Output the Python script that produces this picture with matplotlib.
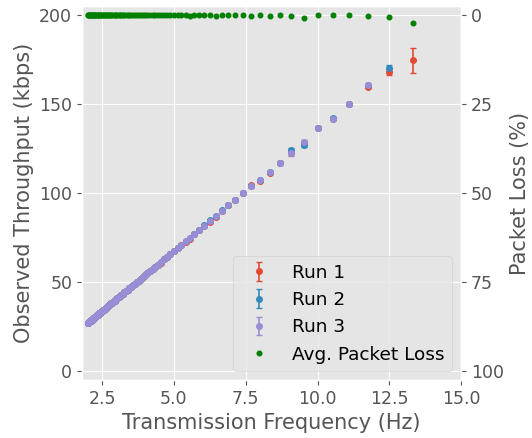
import numpy as np
import matplotlib
matplotlib.use("Agg")
import matplotlib.pyplot as plt

plt.style.use("ggplot")

# transmission frequency (Hz), high -> low
freq = [13.33, 12.50, 11.76, 11.11, 10.53, 10.00, 9.52, 9.09, 8.70, 8.33,
        8.00, 7.69, 7.41, 7.14, 6.90, 6.67, 6.45, 6.25, 6.06, 5.88,
        5.71, 5.56, 5.41, 5.26, 5.13, 5.00, 4.88, 4.76, 4.65, 4.55,
        4.44, 4.35, 4.26, 4.17, 4.08, 4.00, 3.92, 3.85, 3.77, 3.70,
        3.64, 3.57, 3.51, 3.45, 3.39, 3.33, 3.28, 3.23, 3.17, 3.13,
        3.08, 3.03, 2.99, 2.94, 2.90, 2.86, 2.82, 2.78, 2.74, 2.70,
        2.67, 2.63, 2.60, 2.56, 2.53, 2.50, 2.47, 2.44, 2.41, 2.38,
        2.35, 2.33, 2.30, 2.27, 2.25, 2.22, 2.20, 2.17, 2.15, 2.13,
        2.11, 2.08, 2.06, 2.04, 2.02, 2.00]

# observed throughput (kbps) per run
run1 = [174.5, 168.0, 159.6, 149.8, 141.8, 136.7, 128.2, 122.5, 117.1, 111.5,
        106.8, 104.6, 100.0, 96.4, 93.1, 90.0, 86.5, 83.6, 81.8, 79.4,
        77.1, 74.3, 72.3, 71.0, 69.3, 67.5, 65.9, 64.3, 62.8, 61.0,
        59.9, 58.7, 57.5, 56.3, 55.1, 54.0, 52.9, 52.0, 50.9, 50.0,
        49.1, 48.2, 47.4, 46.6, 45.8, 45.0, 44.3, 43.6, 42.8, 42.3,
        41.6, 40.9, 40.4, 39.7, 39.2, 38.6, 38.1, 37.5, 37.0, 36.5,
        36.0, 35.5, 35.1, 34.6, 34.2, 33.8, 33.3, 32.9, 32.5, 32.1,
        31.7, 31.5, 31.1, 30.6, 30.4, 30.0, 29.7, 29.3, 29.0, 28.8,
        28.5, 28.1, 27.8, 27.5, 27.3, 27.0]
run2 = [np.nan, 170.3, 160.5, 149.8, 142.2, 136.7, 127.0, 124.0, 117.1, 112.1,
        107.2, 103.8, 100.0, 96.4, 93.1, 90.3, 87.3, 84.9, 82.4, 79.4,
        77.1, 75.0, 73.0, 71.0, 69.3, 67.5, 65.9, 64.3, 62.8, 61.5,
        59.9, 58.7, 57.5, 56.3, 55.1, 54.0, 52.9, 52.0, 50.9, 50.0,
        49.1, 48.2, 47.4, 46.6, 45.8, 45.0, 44.3, 43.6, 42.8, 42.3,
        41.6, 40.9, 40.4, 39.7, 39.2, 38.6, 38.1, 37.5, 37.0, 36.5,
        36.0, 35.5, 35.1, 34.6, 34.2, 33.8, 33.3, 32.9, 32.5, 32.1,
        31.7, 31.5, 31.1, 30.6, 30.4, 30.0, 29.7, 29.3, 29.0, 28.8,
        28.5, 28.1, 27.8, 27.5, 27.3, 27.0]
run3 = [np.nan, np.nan, 160.8, 149.8, 141.8, 136.7, 128.8, 122.3, 117.1, 112.1,
        107.2, 103.8, 100.0, 96.4, 93.1, 90.0, 87.1, 84.4, 81.8, 79.4,
        77.1, 75.0, 73.0, 71.0, 69.3, 67.5, 65.9, 64.3, 62.8, 61.4,
        59.9, 58.7, 57.5, 56.3, 55.1, 54.0, 52.9, 52.0, 50.9, 50.0,
        49.1, 48.2, 47.4, 46.6, 45.8, 45.0, 44.3, 43.6, 42.8, 42.3,
        41.6, 40.9, 40.4, 39.7, 39.2, 38.6, 38.1, 37.5, 37.0, 36.5,
        36.0, 35.5, 35.1, 34.6, 34.2, 33.8, 33.3, 32.9, 32.5, 32.1,
        31.7, 31.5, 31.1, 30.6, 30.4, 30.0, 29.7, 29.3, 29.0, 28.8,
        28.5, 28.1, 27.8, 27.5, 27.3, 27.0]

# error bar half widths (kbps), only the visible ones are non-zero
err1 = [7.0, 1.8, 0.8, 0.3, 0.3, 0.3, 0.5, 0.5, 0.3, 0.8] + [0.3] * 76
err2 = [0.0, 1.5, 0.5, 0.3, 0.3, 0.3, 1.0, 1.5, 0.3, 0.3] + [0.3] * 76
err3 = [0.0, 0.0, 0.5, 0.3, 0.3, 0.3, 0.8, 1.2, 0.3, 0.3] + [0.3] * 76

# average packet loss (%)
loss = [2.2, 0.66, 0.2, 0.0, 0.0, 0.0, 0.7, 0.2, 0.0, 0.3,
        0.0, 0.15, 0.0, 0.0, 0.0, 0.1, 0.3, 0.0, 0.0, 0.0,
        0.0, 0.35] + [0.0] * 64

fig = plt.figure(figsize=(5.32, 4.38), dpi=100)
ax1 = fig.add_subplot(111)
fig.subplots_adjust(left=0.154, right=0.867, top=0.986, bottom=0.132)

h1 = ax1.errorbar(freq, run1, yerr=err1, fmt='o', ms=4, capsize=2, elinewidth=1.2,
                  color='#E24A33', label='Run 1')
h2 = ax1.errorbar(freq, run2, yerr=err2, fmt='o', ms=4, capsize=2, elinewidth=1.2,
                  color='#348ABD', label='Run 2')
h3 = ax1.errorbar(freq, run3, yerr=err3, fmt='o', ms=4, capsize=2, elinewidth=1.2,
                  color='#988ED5', label='Run 3')

ax2 = ax1.twinx()
ax2.grid(False)
h4, = ax2.plot(freq, loss, 'o', ms=3.3, color='green', label='Avg. Packet Loss')

ax1.set_xlim(1.8, 15.0)
ax1.set_ylim(-5, 205)
ax2.set_ylim(102.5, -2.5)
ax1.set_xticks([2.5, 5.0, 7.5, 10.0, 12.5, 15.0])
ax1.set_yticks([0, 50, 100, 150, 200])
ax2.set_yticks([0, 25, 50, 75, 100])

ax1.tick_params(labelsize=12.5, colors='#555555')
ax2.tick_params(labelsize=12.5, colors='#555555')
ax1.set_xlabel('Transmission Frequency (Hz)', fontsize=15, color='#555555')
ax1.set_ylabel('Observed Throughput (kbps)', fontsize=15, color='#555555')
ax2.set_ylabel('Packet Loss (%)', fontsize=15, color='#555555')

ax2.legend([h1, h2, h3, h4], ['Run 1', 'Run 2', 'Run 3', 'Avg. Packet Loss'],
           loc='lower right', fontsize=13.3)

plt.savefig('out.png', dpi=100)
